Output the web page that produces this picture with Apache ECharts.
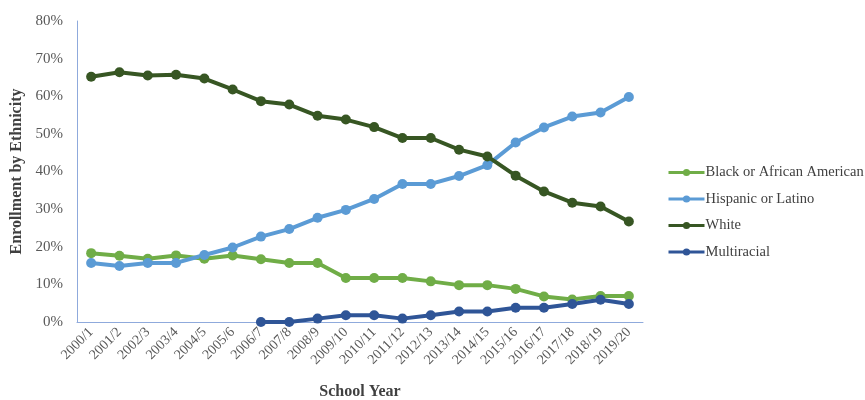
<!DOCTYPE html>
<html>
<head>
<meta charset="utf-8">
<script src="https://cdn.jsdelivr.net/npm/echarts@6/dist/echarts.min.js"></script>
<style>
  html, body { margin: 0; padding: 0; background: #fff; }
  #main { width: 865px; height: 400px; }
</style>
</head>
<body>
<div id="main"></div>
<script>
// 数据
var years = ['2000/1', '2001/2', '2002/3', '2003/4', '2004/5', '2005/6', '2006/7', '2007/8', '2008/9', '2009/10',
  '2010/11', '2011/12', '2012/13', '2013/14', '2014/15', '2015/16', '2016/17', '2017/18', '2018/19', '2019/20'];
var black = [18.3, 17.6, 16.8, 17.7, 16.8, 17.7, 16.7, 15.7, 15.7, 11.7, 11.7, 11.7, 10.8, 9.8, 9.8, 8.8, 6.8, 6.0, 6.9, 6.9];
var hispanic = [15.7, 14.9, 15.7, 15.7, 17.8, 19.8, 22.7, 24.7, 27.7, 29.8, 32.7, 36.7, 36.7, 38.8, 41.7, 47.7, 51.7, 54.6, 55.7, 59.8];
var white = [65.2, 66.4, 65.5, 65.7, 64.7, 61.8, 58.7, 57.8, 54.8, 53.8, 51.8, 48.9, 48.9, 45.8, 44.0, 38.9, 34.7, 31.7, 30.7, 26.7];
var multi = [null, null, null, null, null, null, 0, 0, 0.9, 1.8, 1.8, 0.9, 1.8, 2.8, 2.8, 3.8, 3.8, 4.8, 5.9, 4.8];

var serif = '"Liberation Serif", "Times New Roman", serif';

var myChart = echarts.init(document.getElementById('main'));

function mkSeries(name, data, color) {
    return {
        name: name,
        type: 'line',
        data: data,
        symbol: 'circle',
        symbolSize: 10,
        lineStyle: { width: 4, color: color },
        itemStyle: { color: color },
        connectNulls: false
    };
}

option = {
    animation: false,
    grid: { left: 77, right: 222, top: 21, bottom: 78, outerBoundsMode: 'none' },
    legend: {
        orient: 'vertical',
        left: 662,
        top: 160,
        itemGap: 11.5,
        itemWidth: 36,
        itemHeight: 9,
        lineStyle: { width: 3 },
        textStyle: { fontFamily: serif, fontSize: 14.5, color: '#404040', padding: [0, 0, 0, -4] },
        data: ['Black or African American', 'Hispanic or Latino', 'White', 'Multiracial']
    },
    xAxis: {
        type: 'category',
        data: years,
        name: 'School Year',
        nameLocation: 'middle',
        nameGap: 62,
        nameTextStyle: { fontFamily: serif, fontSize: 16, fontWeight: 'bold', color: '#404040' },
        axisLine: { lineStyle: { color: '#8faadc', width: 1 } },
        axisTick: { show: false },
        axisLabel: { rotate: 45, fontFamily: serif, fontSize: 14, color: '#595959', margin: 8, interval: 0 }
    },
    yAxis: {
        type: 'value',
        min: 0,
        max: 80,
        interval: 10,
        name: 'Enrollment by Ethnicity',
        nameLocation: 'middle',
        nameGap: 47,
        nameTextStyle: { fontFamily: serif, fontSize: 16, fontWeight: 'bold', color: '#404040' },
        axisLine: { show: true, lineStyle: { color: '#8faadc', width: 1 } },
        axisTick: { show: false },
        splitLine: { show: false },
        axisLabel: { formatter: '{value}%', fontFamily: serif, fontSize: 15, color: '#595959', margin: 14 }
    },
    series: [
        mkSeries('Black or African American', black, '#70ad47'),
        mkSeries('Hispanic or Latino', hispanic, '#5b9bd5'),
        mkSeries('White', white, '#375623'),
        mkSeries('Multiracial', multi, '#2f5597')
    ]
};

if (option && typeof option === "object") {
    myChart.setOption(option, true);
}
</script>
</body>
</html>
